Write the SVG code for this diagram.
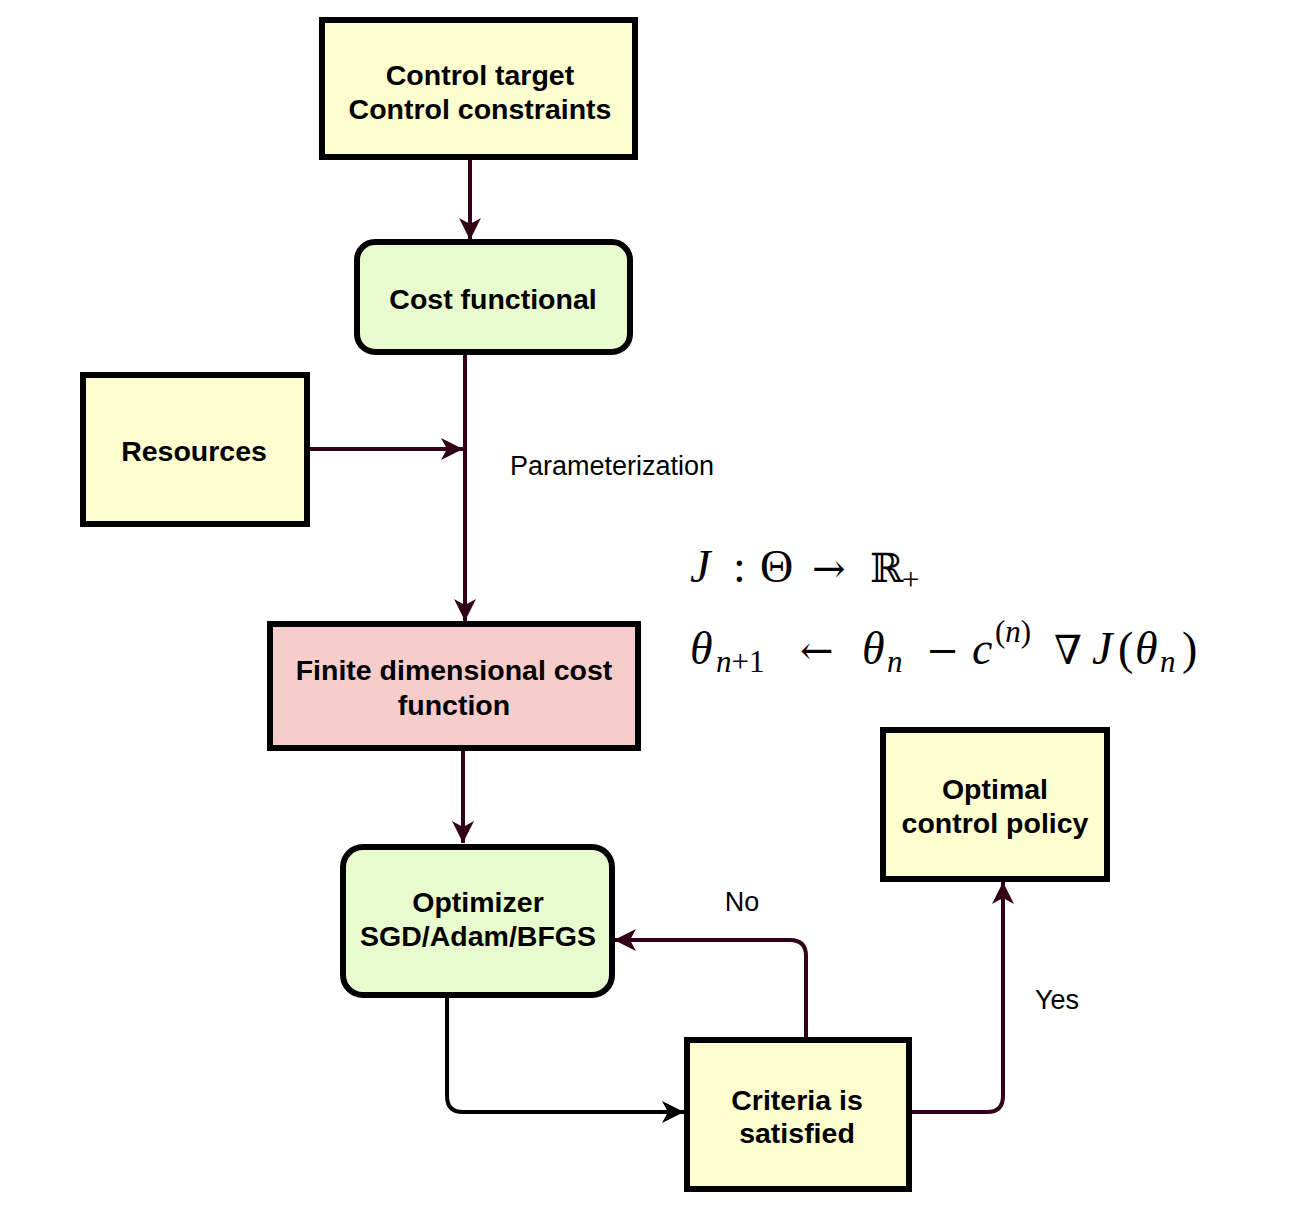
<svg xmlns="http://www.w3.org/2000/svg" width="1308" height="1228" viewBox="0 0 1308 1228">
<style>
.box{stroke:#000;stroke-width:6}
.y{fill:#fdfdd0}
.g{fill:#e8fbcf}
.r{fill:#f7cdcc}
.t{font-family:"Liberation Sans",Arial,sans-serif;font-weight:bold;font-size:28.5px;fill:#000;text-anchor:middle}
.l{font-family:"Liberation Sans",Arial,sans-serif;font-size:27px;fill:#000}
.m{font-family:"Liberation Serif","DejaVu Serif",serif;font-size:46px;fill:#000}
.d{font-family:"DejaVu Serif",serif;font-size:40px}
.i{font-style:italic}
.s{font-size:31px}
.c{fill:none;stroke:#33001a;stroke-width:4}
.k{fill:none;stroke:#000;stroke-width:4}
</style>
<defs>
<marker id="am" markerWidth="24" markerHeight="24" viewBox="0 0 24 24" refX="22" refY="12" orient="auto" markerUnits="userSpaceOnUse">
<path d="M0,1 L22,12 L0,23 L6,12 Z" fill="#33001a"/>
</marker>
<marker id="ak" markerWidth="24" markerHeight="24" viewBox="0 0 24 24" refX="22" refY="12" orient="auto" markerUnits="userSpaceOnUse">
<path d="M0,1 L22,12 L0,23 L6,12 Z" fill="#000"/>
</marker>
</defs>
<rect width="1308" height="1228" fill="#fff"/>
<g id="connectors">
<path class="c" d="M470,157 L470,240" marker-end="url(#am)"/>
<path class="c" d="M465,352 L465,621" marker-end="url(#am)"/>
<path class="c" d="M307,449 L463,449" marker-end="url(#am)"/>
<path class="c" d="M463,748 L463,843" marker-end="url(#am)"/>
<path class="k" d="M447,995 L447,1096 Q447,1112 463,1112 L684,1112" marker-end="url(#ak)"/>
<path class="c" d="M806,1038 L806,956 Q806,940 790,940 L614,940" marker-end="url(#am)"/>
<path class="c" d="M909,1112 L987,1112 Q1003,1112 1003,1096 L1003,882" marker-end="url(#am)"/>
</g>
<g id="labels">
<text class="l" x="510" y="475">Parameterization</text>
<text class="l" x="742" y="911" text-anchor="middle">No</text>
<text class="l" x="1057" y="1009" text-anchor="middle">Yes</text>
</g>
<g id="formula" class="m">
<text x="690" y="582"><tspan class="i">J</tspan><tspan x="733">:</tspan><tspan x="760">Θ</tspan><tspan class="d" x="812">→</tspan><tspan class="d" x="870">ℝ</tspan><tspan class="s" x="902" dy="8">+</tspan></text>
<text x="690" y="664"><tspan class="i">θ</tspan><tspan class="s i" x="716" dy="8">n</tspan><tspan class="s">+1</tspan><tspan class="d" x="800" dy="-8">←</tspan><tspan class="i" x="862">θ</tspan><tspan class="s i" x="887" dy="8">n</tspan><tspan class="d" x="926" dy="-8">−</tspan><tspan class="i" x="972">c</tspan><tspan class="s" x="995" dy="-22">(<tspan class="i">n</tspan>)</tspan><tspan class="d" x="1054" dy="22">∇</tspan><tspan class="i" x="1092">J</tspan><tspan x="1118">(</tspan><tspan class="i" x="1135">θ</tspan><tspan class="s i" x="1160" dy="8">n</tspan><tspan x="1182" dy="-8">)</tspan></text>
</g>
<g id="control-target">
<rect class="box y" x="322" y="20" width="313" height="137"/>
<text class="t" x="480" y="85">Control target</text>
<text class="t" x="480" y="119">Control constraints</text>
</g>
<g id="cost-functional">
<rect class="box g" x="357" y="242" width="273" height="110" rx="18"/>
<text class="t" x="493" y="309">Cost functional</text>
</g>
<g id="resources">
<rect class="box y" x="83" y="375" width="224" height="149"/>
<text class="t" x="194" y="461">Resources</text>
</g>
<g id="finite-cost">
<rect class="box r" x="270" y="624" width="368" height="124"/>
<text class="t" x="454" y="680">Finite dimensional cost</text>
<text class="t" x="454" y="715">function</text>
</g>
<g id="optimizer">
<rect class="box g" x="343" y="847" width="269" height="148" rx="20"/>
<text class="t" x="478" y="912">Optimizer</text>
<text class="t" x="478" y="946">SGD/Adam/BFGS</text>
</g>
<g id="criteria">
<rect class="box y" x="687" y="1040" width="222" height="149"/>
<text class="t" x="797" y="1110">Criteria is</text>
<text class="t" x="797" y="1143">satisfied</text>
</g>
<g id="optimal-policy">
<rect class="box y" x="883" y="730" width="224" height="149"/>
<text class="t" x="995" y="799">Optimal</text>
<text class="t" x="995" y="833">control policy</text>
</g>
</svg>
